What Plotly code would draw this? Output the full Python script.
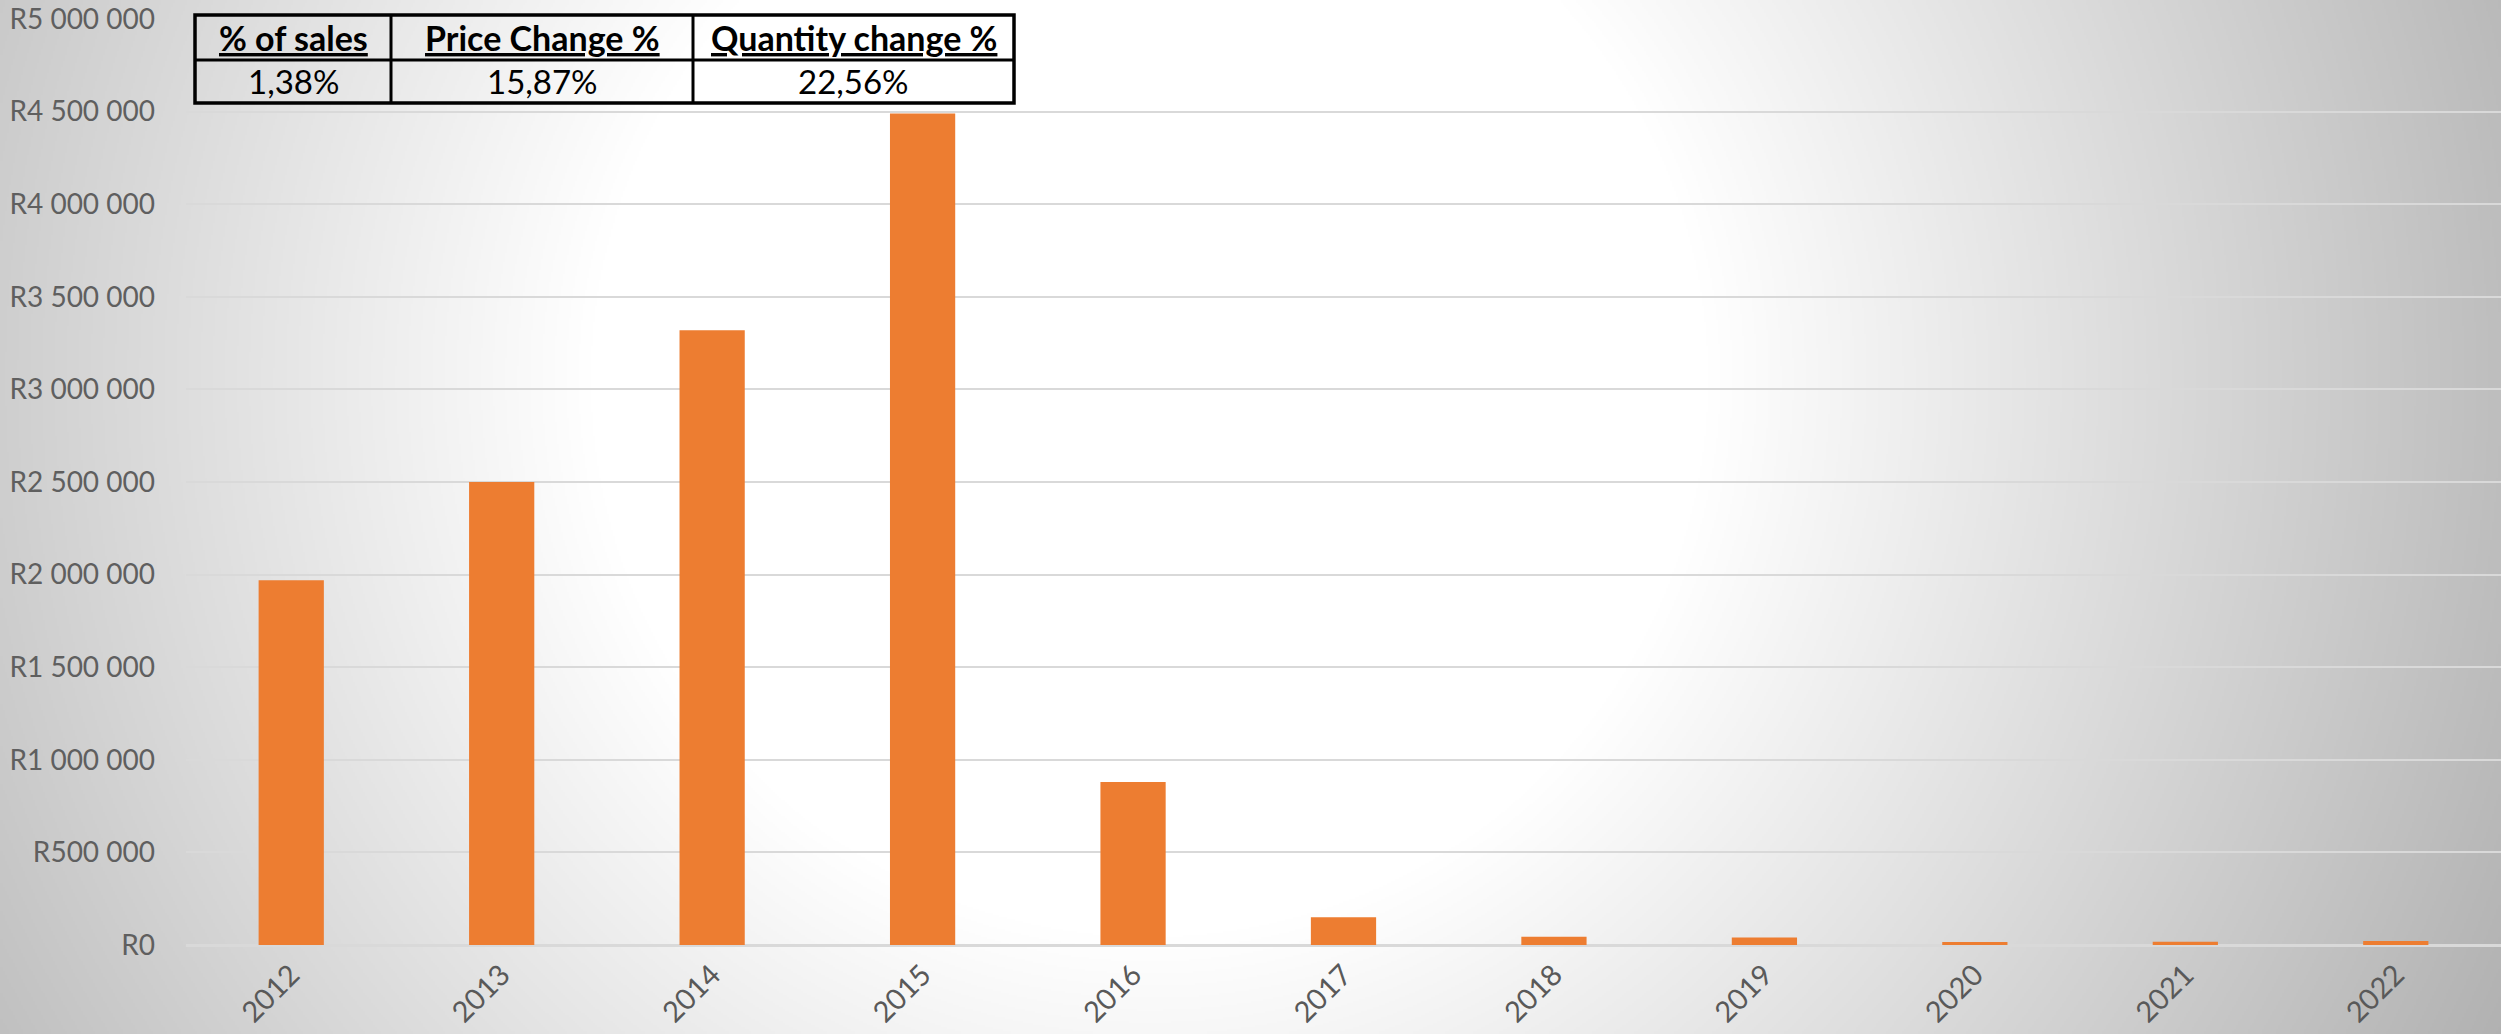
import base64
import struct
import zlib

import numpy as np
import plotly.graph_objects as go

# ---------------- data ----------------
years = ["2012", "2013", "2014", "2015", "2016", "2017", "2018", "2019", "2020", "2021", "2022"]
sales = [1970000, 2500000, 3320000, 4490000, 880000, 150000, 45000, 41000, 16000, 18000, 22000]

table_headers = ["% of sales", "Price Change %", "Quantity change %"]
table_values = ["1,38%", "15,87%", "22,56%"]

# ---------------- geometry (figure pixels) ----------------
W, H = 2501, 1034
ML, MR, MT, MB = 186, 0, 19, 89
PW, PH = W - ML - MR, H - MT - MB


def px_x(px):
    return (px - ML) / PW


def px_y(py):
    return (H - MB - py) / PH


# ---------------- radial gradient background (PNG data URI) ----------------
def make_png(arr):
    h, w, _ = arr.shape
    raw = b"".join(b"\x00" + arr[i].tobytes() for i in range(h))

    def chunk(t, d):
        return struct.pack(">I", len(d)) + t + d + struct.pack(">I", zlib.crc32(t + d) & 0xFFFFFFFF)

    return (b"\x89PNG\r\n\x1a\n"
            + chunk(b"IHDR", struct.pack(">IIBBBBB", w, h, 8, 2, 0, 0, 0))
            + chunk(b"IDAT", zlib.compress(raw, 9))
            + chunk(b"IEND", b""))


s = 2
gw, gh = W // s + 1, H // s + 1
gx = (np.arange(gw) + 0.5) * s
gy = (np.arange(gh) + 0.5) * s
XX, YY = np.meshgrid(gx, gy)
dist = np.sqrt((XX - 1150) ** 2 + (YY - 380) ** 2)
val = np.clip(255 - 0.082 * (dist - 560), 170, 255).astype(np.uint8)
img = np.stack([val, val, val], axis=-1)
bg_uri = "data:image/png;base64," + base64.b64encode(make_png(img)).decode()

# ---------------- figure ----------------
fig = go.Figure()
fig.add_trace(go.Bar(
    x=years, y=sales,
    marker=dict(color="#ED7D31", line=dict(width=0)),
    hoverinfo="x+y",
))

font_family = "Lato, 'Open Sans', sans-serif"

fig.update_layout(
    width=W, height=H,
    margin=dict(l=ML, r=MR, t=MT, b=MB, pad=0),
    paper_bgcolor="#bdbdbd",
    plot_bgcolor="rgba(0,0,0,0)",
    bargap=0.69,
    showlegend=False,
    separators=", ",
    font=dict(family=font_family, color="#595959", size=28),
    xaxis=dict(
        type="category",
        tickangle=-45,
        showgrid=False,
        showline=False,
        zeroline=False,
        ticks="",
        ticklabelstandoff=6,
        tickfont=dict(size=29, color="#595959"),
    ),
    yaxis=dict(
        range=[0, 5000000],
        dtick=500000,
        tick0=0,
        tickformat=",.0f",
        tickprefix="R",
        showgrid=True,
        gridcolor="#d9d9d9",
        gridwidth=2,
        zeroline=True,
        zerolinecolor="#d9d9d9",
        zerolinewidth=3,
        showline=False,
        ticks="",
        ticklabelstandoff=30,
        tickfont=dict(size=28, color="#5f5f5f"),
    ),
    images=[dict(
        source=bg_uri,
        xref="paper", yref="paper",
        x=px_x(0), y=px_y(0),
        sizex=W / PW, sizey=H / PH,
        xanchor="left", yanchor="top",
        sizing="stretch",
        layer="below",
    )],
)

# ---------------- summary table (top-left) ----------------
t_left, t_right = 195, 1014
t_top, t_mid, t_bot = 15, 60, 103
col_edges = [t_left, 391, 693, t_right]

shapes = []
lw_outer, lw_inner = 3.5, 3
shapes.append(dict(type="rect", xref="paper", yref="paper",
                   x0=px_x(t_left), x1=px_x(t_right), y0=px_y(t_top), y1=px_y(t_bot),
                   line=dict(color="black", width=lw_outer), fillcolor="rgba(0,0,0,0)", layer="above"))
shapes.append(dict(type="line", xref="paper", yref="paper",
                   x0=px_x(t_left), x1=px_x(t_right), y0=px_y(t_mid), y1=px_y(t_mid),
                   line=dict(color="black", width=lw_inner), layer="above"))
for cx in col_edges[1:-1]:
    shapes.append(dict(type="line", xref="paper", yref="paper",
                       x0=px_x(cx), x1=px_x(cx), y0=px_y(t_top), y1=px_y(t_bot),
                       line=dict(color="black", width=lw_inner), layer="above"))
fig.update_layout(shapes=shapes)

for i, (hdr, v) in enumerate(zip(table_headers, table_values)):
    cx = (col_edges[i] + col_edges[i + 1]) / 2
    fig.add_annotation(
        xref="paper", yref="paper", x=px_x(cx), y=px_y((t_top + t_mid) / 2),
        text="<b><u>" + hdr + "</u></b>", showarrow=False,
        xanchor="center", yanchor="middle",
        font=dict(family=font_family, size=34, color="black"),
    )
    fig.add_annotation(
        xref="paper", yref="paper", x=px_x(cx), y=px_y((t_mid + t_bot) / 2),
        text=v, showarrow=False,
        xanchor="center", yanchor="middle",
        font=dict(family=font_family, size=33, color="black"),
    )

fig.write_html(
    "out.html",
    config={"displayModeBar": False},
    post_script="document.body.style.margin='0';document.body.style.overflow='hidden';",
)
